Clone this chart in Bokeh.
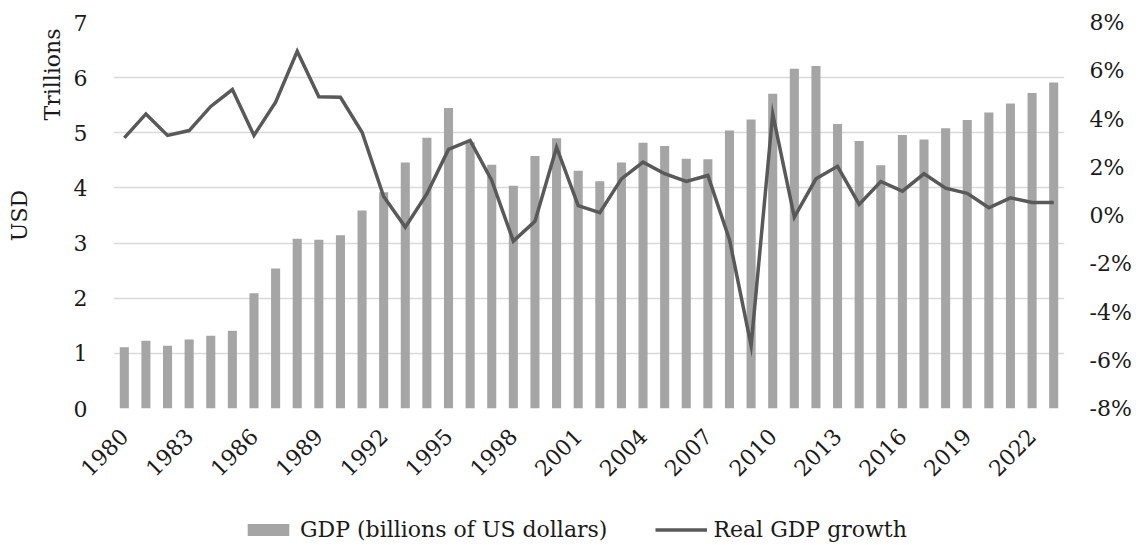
from bokeh.plotting import figure
from bokeh.layouts import column
from bokeh.models import (Range1d, LinearAxis, FixedTicker, PrintfTickFormatter,
                          Legend, LegendItem, Title, ColumnDataSource)
from bokeh.embed import file_html
from bokeh.resources import INLINE
import math

years = list(range(1980, 2024))
gdp_trillions = [1.11, 1.23, 1.14, 1.25, 1.32, 1.41, 2.09, 2.54, 3.08, 3.06,
                 3.14, 3.59, 3.92, 4.46, 4.91, 5.45, 4.83, 4.42, 4.04, 4.58,
                 4.90, 4.31, 4.12, 4.46, 4.82, 4.76, 4.53, 4.52, 5.04, 5.24,
                 5.71, 6.16, 6.21, 5.16, 4.85, 4.41, 4.96, 4.88, 5.08, 5.23,
                 5.37, 5.53, 5.72, 5.91]
growth_pct = [3.22, 4.21, 3.32, 3.52, 4.52, 5.22, 3.32, 4.70, 6.81, 4.92,
              4.90, 3.45, 0.79, -0.48, 0.90, 2.74, 3.11, 1.45, -1.06, -0.24,
              2.83, 0.41, 0.12, 1.52, 2.21, 1.73, 1.41, 1.66, -1.00, -5.39,
              4.21, -0.07, 1.52, 2.04, 0.46, 1.41, 1.01, 1.73, 1.13, 0.92,
              0.32, 0.73, 0.54, 0.54]
year_ticks = years[::3]
left_ticks = [0, 1, 2, 3, 4, 5, 6, 7]
right_ticks = [-8, -6, -4, -2, 0, 2, 4, 6, 8]

FONT = "DejaVu Serif"
FS = "22px"
BAR = "#a5a5a5"
LINE = "#595959"
GRID = "#d9d9d9"
TXT = "#1a1a1a"
BAR_WIDTH = 0.42
LINE_WIDTH = 3.5

src = ColumnDataSource(dict(year=years, gdp=gdp_trillions, growth=growth_pct))

p = figure(width=1142, height=500, output_backend="svg", toolbar_location=None,
           x_range=Range1d(1979.5, 2023.5), y_range=Range1d(0, 7),
           min_border_left=113, min_border_right=78, min_border_top=22,
           min_border_bottom=92)
p.outline_line_color = None
p.background_fill_color = "white"
p.border_fill_color = "white"
p.extra_y_ranges = {"growth": Range1d(-8, 8)}

p.vbar(x="year", top="gdp", width=BAR_WIDTH, source=src,
       fill_color=BAR, line_color=None)
p.line(x="year", y="growth", source=src, y_range_name="growth",
       line_color=LINE, line_width=LINE_WIDTH, line_join="miter")

p.xgrid.grid_line_color = None
p.ygrid.grid_line_color = GRID
p.ygrid.grid_line_width = 1.5
p.ygrid.ticker = FixedTicker(ticks=left_ticks)


def plain_axis(ax, standoff):
    ax.axis_line_color = None
    ax.major_tick_line_color = None
    ax.minor_tick_line_color = None
    ax.major_tick_out = 0
    ax.major_tick_in = 0
    ax.minor_tick_out = 0
    ax.minor_tick_in = 0
    ax.major_label_text_font = FONT
    ax.major_label_text_font_size = FS
    ax.major_label_text_color = TXT
    ax.major_label_standoff = standoff


# bottom year axis
xa = p.xaxis[0]
xa.ticker = FixedTicker(ticks=year_ticks)
xa.major_label_overrides = {y: str(y) for y in year_ticks}
xa.major_label_orientation = math.pi / 4
plain_axis(xa, 24)

# left USD axis
ya = p.yaxis[0]
ya.ticker = FixedTicker(ticks=left_ticks)
plain_axis(ya, 26)

# right growth axis
ra = LinearAxis(y_range_name="growth", ticker=FixedTicker(ticks=right_ticks),
                formatter=PrintfTickFormatter(format="%d%%"))
plain_axis(ra, 25)
p.add_layout(ra, "right")

# unit and axis titles on the left side
p.add_layout(Title(text="Trillions", align="right", offset=6, standoff=12,
                   text_font=FONT, text_font_size=FS, text_font_style="normal",
                   text_color=TXT), "left")
p.add_layout(Title(text="USD", align="center", standoff=0,
                   text_font=FONT, text_font_size=FS, text_font_style="normal",
                   text_color=TXT), "left")

# legend strip under the chart; its key renderers share the series data, but
# this strip's ranges sit beyond every value, so only the swatches show
lg = figure(width=1142, height=45, output_backend="svg", toolbar_location=None,
            x_range=Range1d(3000, 4000), y_range=Range1d(100, 200),
            x_axis_location=None, y_axis_location=None,
            min_border=0, min_border_left=0, min_border_right=0,
            min_border_top=0, min_border_bottom=0)
lg.outline_line_color = None
lg.xgrid.visible = False
lg.ygrid.visible = False
bar_key = lg.vbar(x="year", top="gdp", width=BAR_WIDTH, source=src,
                  fill_color=BAR, line_color=None)
line_key = lg.line(x="year", y="growth", source=src,
                   line_color=LINE, line_width=LINE_WIDTH)
legend = Legend(items=[LegendItem(label="GDP (billions of US dollars)", renderers=[bar_key]),
                       LegendItem(label="Real GDP growth", renderers=[line_key])],
                orientation="horizontal", location=(129, 3),
                glyph_width=52, glyph_height=15, label_standoff=6, spacing=48,
                padding=0, margin=0, border_line_color=None,
                background_fill_alpha=0,
                label_text_font=FONT, label_text_font_size=FS, label_text_color=TXT)
lg.add_layout(legend)

layout = column(p, lg, spacing=0)
open("out.html", "w").write(file_html(layout, INLINE))
